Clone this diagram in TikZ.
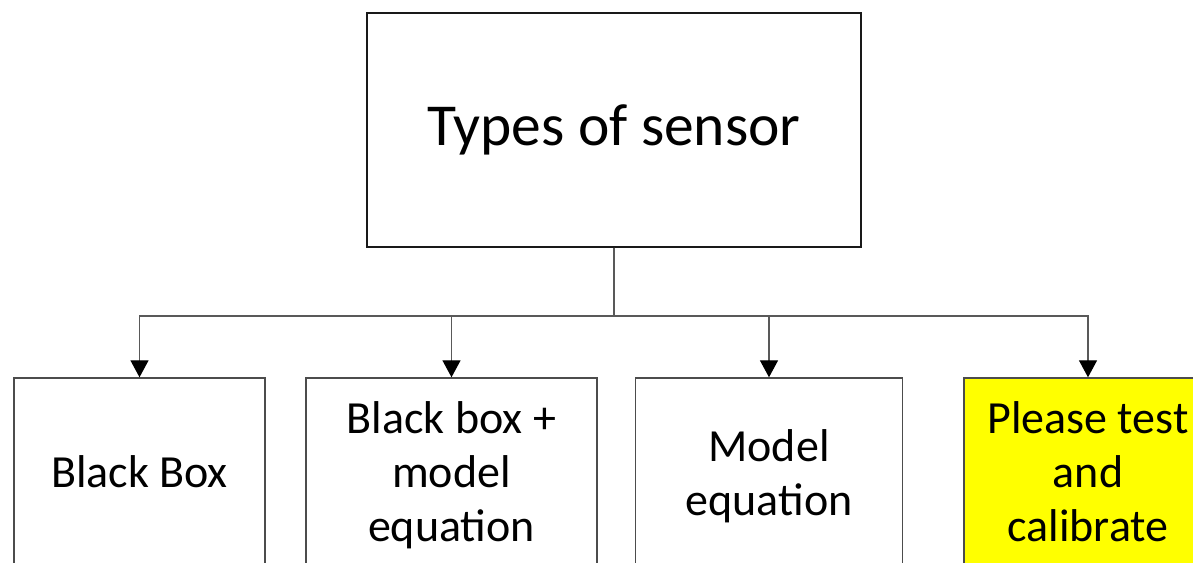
\documentclass[tikz,border=0pt]{standalone}
\usepackage{fontspec}
\setmainfont{Carlito}
\usetikzlibrary{arrows.meta}

\definecolor{hilite}{RGB}{255,255,0}

\tikzset{
  box/.style={draw=black!70, line width=1.4pt, rectangle, inner sep=0pt,
              align=center, fill=white},
  rootbox/.style={box, draw=black!90, minimum width=494pt, minimum height=234pt,
                  font=\fontsize{59.5}{68}\selectfont},
  leafbox/.style={box, font=\fontsize{46}{54}\selectfont},
  link/.style={draw=black!65, line width=1.3pt},
  arrowlink/.style={link, -{Triangle[length=17pt,width=18pt,color=black]}},
}

\begin{document}
\begin{tikzpicture}[x=1pt,y=-1pt]
  \useasboundingbox (0,0) rectangle (1193,562);
  \clip (0,0) rectangle (1193,562);

  % root of the tree
  \node[rootbox] (root) at (614,130) {Types of sensor};

  % the four kinds of sensor (their lower edges run off the page)
  \node[leafbox, minimum width=251pt, minimum height=188pt] (bb)  at (139.5,472) {Black Box};
  \node[leafbox, minimum width=291pt, minimum height=194pt] (bbm) at (451.5,475) {Black box +\\model\\equation};
  \node[leafbox, minimum width=267pt, minimum height=196pt] (meq) at (769,476)   {Model\\equation};
  \node[leafbox, minimum width=248pt, minimum height=188pt, fill=hilite] (cal) at (1088,472) {Please test\\and\\calibrate};

  % branching connectors
  \coordinate (bus) at (614,316);
  \foreach \leaf in {bb,bbm,meq,cal}
    \draw[arrowlink] (root.south) |- (\leaf.north |- bus) -- (\leaf.north);
\end{tikzpicture}
\end{document}
